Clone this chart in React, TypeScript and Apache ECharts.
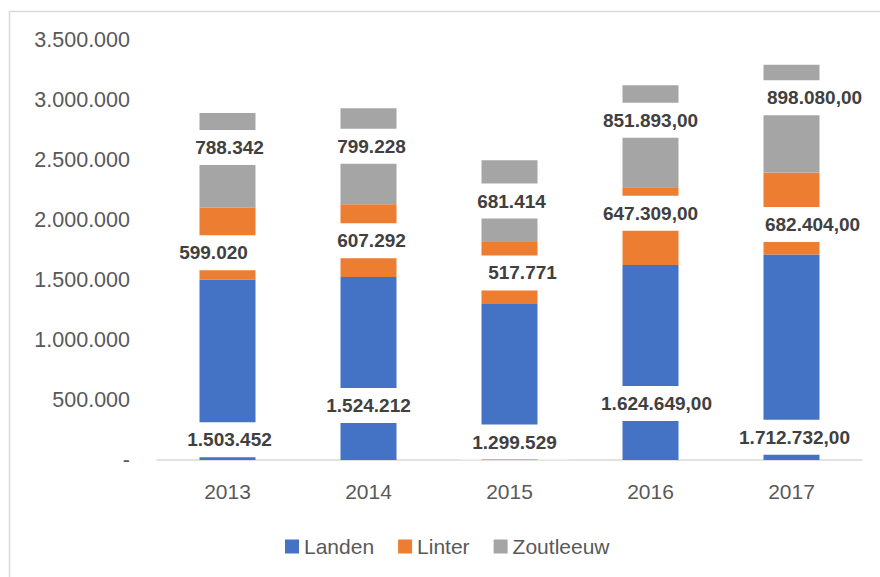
import React, { useEffect, useRef } from 'react';
import * as echarts from 'echarts';

// ---- data ----
const years = ['2013', '2014', '2015', '2016', '2017'];
const landen = [1503452, 1524212, 1299529, 1624649, 1712732];
const linter = [599020, 607292, 517771, 647309, 682404];
const zoutleeuw = [788342, 799228, 681414, 851893, 898080];
const seriesNames = ['Landen', 'Linter', 'Zoutleeuw'];
const yMax = 3500000;
const yStep = 500000;
// years whose labels are shown with two decimals
const decimalYears = ['2016', '2017'];

// ---- label placement (style: pixel offsets from segment centre) ----
const landenOffsets = [[2, 70], [0, 37], [5, 60], [6, 41], [3, 80]];
const linterOffsets = [[-14, 9], [3, 0], [13, 0], [0, -13], [21, 11]];
const zoutleeuwOffsets = [[2, -13], [3, -10], [2, 0], [0, -16], [23, -21]];

const colors = ['#4472C4', '#ED7D31', '#A5A5A5'];
const FONT = '"Liberation Sans", Arial, sans-serif';

function thousands(v: number): string {
  return Math.round(v).toString().replace(/\B(?=(\d{3})+(?!\d))/g, '.');
}

export default function App() {
  const ref = useRef<HTMLDivElement>(null);

  useEffect(() => {
    if (!ref.current) return;
    const chart = echarts.init(ref.current, null, { renderer: 'svg' });

    const makeSeries = (name: string, values: number[], offsets: number[][], color: string) => ({
      name,
      type: 'bar',
      stack: 'total',
      barWidth: 56,
      itemStyle: { color },
      data: values.map((v, i) => ({
        value: v,
        label: { offset: offsets[i] },
      })),
      label: {
        show: true,
        position: 'inside',
        fontFamily: FONT,
        fontSize: 19,
        fontWeight: 'bold',
        color: '#404040',
        backgroundColor: '#ffffff',
        padding: [8, 12],
        formatter: (p: any) =>
          thousands(p.value) + (decimalYears.includes(p.name) ? ',00' : ''),
      },
    });

    chart.setOption({
      animation: false,
      backgroundColor: '#ffffff',
      textStyle: { fontFamily: FONT },
      grid: { left: 157, right: 18, top: 40, bottom: 117, containLabel: false },
      legend: {
        data: seriesNames,
        left: 280,
        top: 531,
        itemWidth: 14,
        itemHeight: 14,
        itemGap: 24,
        icon: 'rect',
        textStyle: { fontFamily: FONT, fontSize: 21, color: '#595959' },
      },
      xAxis: {
        type: 'category',
        data: years,
        axisLine: { show: true, lineStyle: { color: '#d9d9d9', width: 1.5 } },
        axisTick: { show: false },
        axisLabel: { fontFamily: FONT, fontSize: 21, color: '#595959', margin: 21 },
      },
      yAxis: {
        type: 'value',
        min: 0,
        max: yMax,
        interval: yStep,
        splitLine: { show: false },
        axisLine: { show: false },
        axisTick: { show: false },
        axisLabel: {
          fontFamily: FONT,
          fontSize: 21.5,
          color: '#595959',
          margin: 27,
          formatter: (v: number) => (v === 0 ? '-' : thousands(v)),
        },
      },
      graphic: [
        {
          type: 'rect',
          shape: { x: 9.5, y: 11.5, width: 1000, height: 1000 },
          style: { fill: 'none', stroke: '#d9d9d9', lineWidth: 1.5 },
          silent: true,
          z: -10,
        },
      ],
      series: [
        makeSeries(seriesNames[0], landen, landenOffsets, colors[0]),
        makeSeries(seriesNames[1], linter, linterOffsets, colors[1]),
        makeSeries(seriesNames[2], zoutleeuw, zoutleeuwOffsets, colors[2]),
      ],
    });

    return () => chart.dispose();
  }, []);

  return (
    <div
      ref={ref}
      style={{ position: 'fixed', left: 0, top: 0, width: 880, height: 577 }}
    />
  );
}
